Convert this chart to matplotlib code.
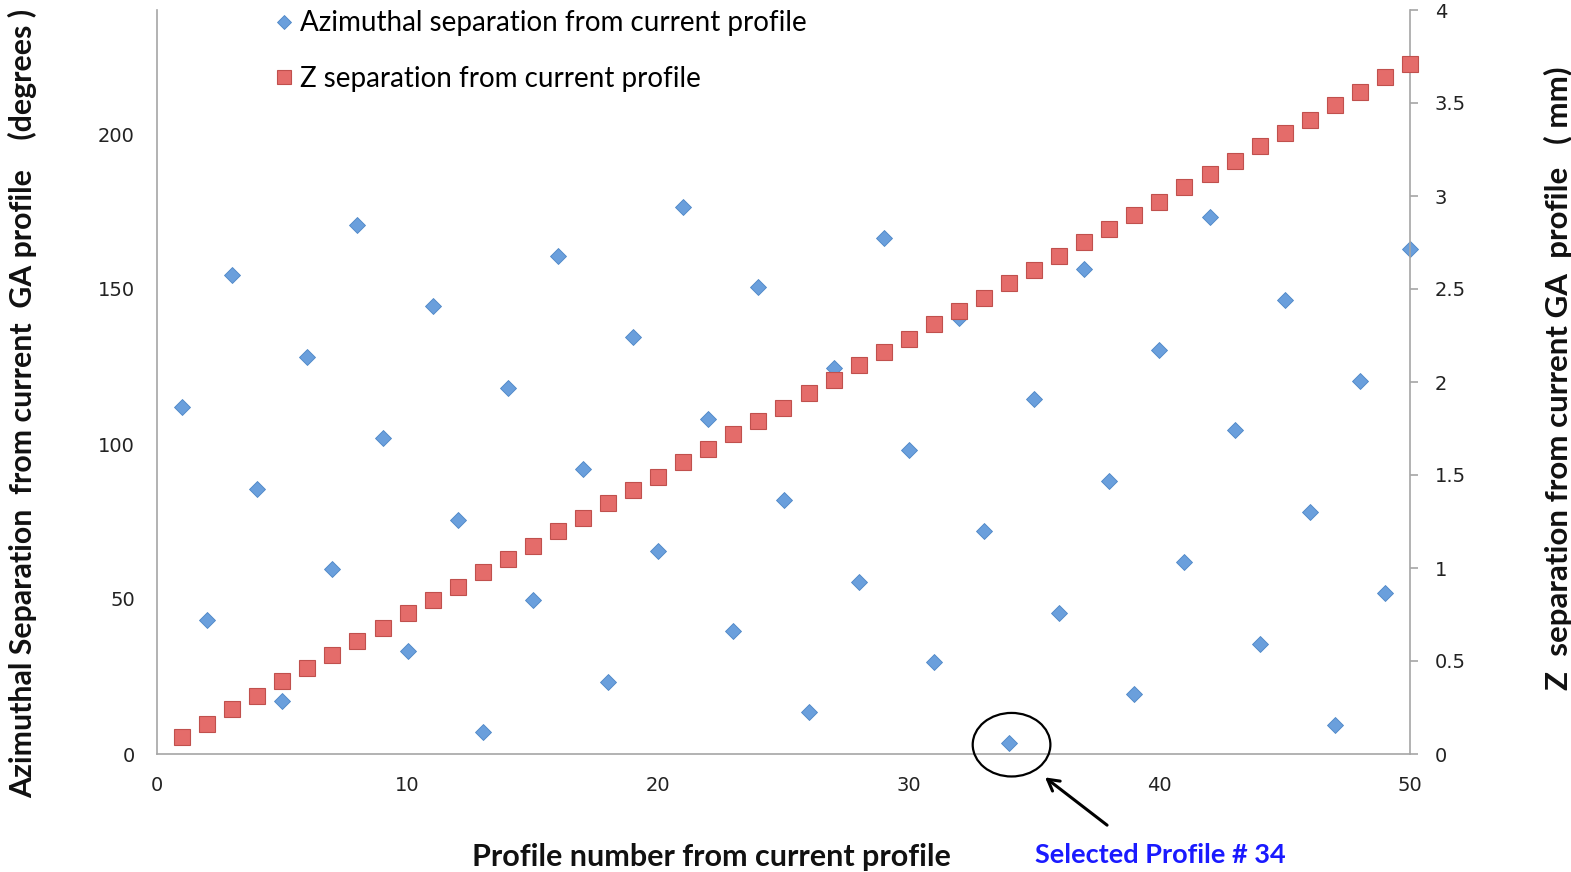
import matplotlib
matplotlib.use("Agg")
import matplotlib.pyplot as plt
from matplotlib.patches import Ellipse
from matplotlib.lines import Line2D

profile = list(range(1, 51))
azimuth = [111.9, 43.2, 154.5, 85.5, 17.1, 128.0, 59.7, 170.6, 101.9, 33.2,
           144.5, 75.5, 7.1, 118.0, 49.7, 160.6, 91.9, 23.2, 134.5, 65.5,
           176.5, 108.0, 39.7, 150.6, 81.9, 13.5, 124.5, 55.5, 166.5, 98.0,
           29.7, 140.6, 71.9, 3.5, 114.5, 45.5, 156.5, 88.0, 19.4, 130.3,
           61.9, 173.2, 104.5, 35.5, 146.5, 78.0, 9.4, 120.3, 51.9, 162.9]
z_sep = [0.09, 0.16, 0.24, 0.31, 0.39, 0.46, 0.53, 0.61, 0.68, 0.76,
         0.83, 0.90, 0.98, 1.05, 1.12, 1.20, 1.27, 1.35, 1.42, 1.49,
         1.57, 1.64, 1.72, 1.79, 1.86, 1.94, 2.01, 2.09, 2.16, 2.23,
         2.31, 2.38, 2.45, 2.53, 2.60, 2.68, 2.75, 2.82, 2.90, 2.97,
         3.05, 3.12, 3.19, 3.27, 3.34, 3.41, 3.49, 3.56, 3.64, 3.71]
left_ticks = [0, 50, 100, 150, 200]
right_ticks = [0, 0.5, 1, 1.5, 2, 2.5, 3, 3.5, 4]
right_tick_labels = ["0", "0.5", "1", "1.5", "2", "2.5", "3", "3.5", "4"]
x_ticks = [0, 10, 20, 30, 40, 50]
selected = 34

W, H = 1571, 872
fig = plt.figure(figsize=(W / 100, H / 100), dpi=100)
ax1 = fig.add_axes([157 / W, 1 - 754 / H, (1410 - 157) / W, (754 - 10) / H])
ax2 = ax1.twinx()

blue_face = "#6a9fdc"
blue_edge = "#4d86c6"
red_face = "#e46c6a"
red_edge = "#c0504d"
grey = "#a6a6a6"

ax1.plot(profile, azimuth, linestyle="none", marker="D", markersize=8,
         markerfacecolor=blue_face, markeredgecolor=blue_edge, markeredgewidth=0.6,
         clip_on=False, zorder=3)
ax2.plot(profile, z_sep, linestyle="none", marker="s", markersize=11,
         markerfacecolor=red_face, markeredgecolor=red_edge, markeredgewidth=0.8,
         clip_on=False, zorder=3)

ax1.set_xlim(0, 50)
ax1.set_ylim(0, 240)
ax2.set_ylim(0, 4)

ax1.set_xticks(x_ticks)
ax1.set_yticks(left_ticks)
ax2.set_yticks(right_ticks)
ax2.set_yticklabels(right_tick_labels)

for ax in (ax1, ax2):
    for s in ax.spines.values():
        s.set_visible(False)
ax1.spines["left"].set_visible(True)
ax1.spines["bottom"].set_visible(True)
ax2.spines["right"].set_visible(True)
for s in (ax1.spines["left"], ax1.spines["bottom"], ax2.spines["right"]):
    s.set_color(grey)
    s.set_linewidth(1.2)

ax1.tick_params(axis="y", length=0, pad=16, labelsize=14, labelcolor="#222222")
ax1.tick_params(axis="x", length=0, pad=16, labelsize=14, labelcolor="#222222")
ax2.tick_params(axis="y", length=6, width=1.2, color=grey, direction="out",
                pad=12, labelsize=14, labelcolor="#222222")

lab_family = ["Lato", "DejaVu Sans"]
fig.text(23 / W, 1 - 403 / H, "Azimuthal Separation  from current  GA profile    (degrees )",
         rotation=90, ha="center", va="center", fontsize=21.8, fontweight="bold",
         family=lab_family, color="#111111")
fig.text(1558 / W, 1 - 378 / H, "Z  separation from current GA  profile   ( mm)",
         rotation=90, ha="center", va="center", fontsize=22.5, fontweight="bold",
         family=lab_family, color="#111111")
fig.text(711 / W, 1 - 857 / H, "Profile number from current profile",
         ha="center", va="center", fontsize=22, fontweight="bold",
         family=lab_family, color="#111111")
fig.text(1035 / W, 1 - 855 / H, "Selected Profile # 34",
         ha="left", va="center", fontsize=19.5, fontweight="bold",
         family=lab_family, color="#1a1aff")

# legend
handles = [
    Line2D([], [], linestyle="none", marker="D", markersize=7,
           markerfacecolor=blue_face, markeredgecolor=blue_edge, markeredgewidth=0.6),
    Line2D([], [], linestyle="none", marker="s", markersize=10,
           markerfacecolor=red_face, markeredgecolor=red_edge, markeredgewidth=0.8),
]
leg = fig.legend(handles, ["Azimuthal separation from current profile",
                           "Z separation from current profile"],
                 loc="upper left", bbox_to_anchor=(256 / W, 1 + 9 / H),
                 frameon=False, handlelength=0.6, handletextpad=0.3,
                 labelspacing=1.05, borderpad=0.2,
                 prop=dict(family=lab_family, size=20))

# selected profile highlight
sel_idx = profile.index(selected)
ell = Ellipse((profile[sel_idx] + 0.1, azimuth[sel_idx] - 0.5), width=3.1, height=20.5,
              fill=False, edgecolor="black", linewidth=1.6, clip_on=False, zorder=4)
ax1.add_patch(ell)
ax1.annotate("", xy=(35.35, -7.0), xytext=(38.0, -23.5),
             arrowprops=dict(arrowstyle="->,head_length=0.8,head_width=0.45",
                             color="black", lw=2.2),
             annotation_clip=False)

fig.savefig("out.png", dpi=100)
